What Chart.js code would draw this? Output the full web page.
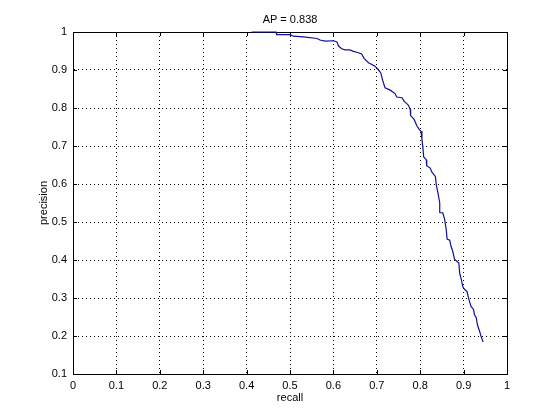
<!DOCTYPE html>
<html>
<head>
<meta charset="utf-8">
<script src="https://cdn.jsdelivr.net/npm/chart.js@4/dist/chart.umd.min.js"></script>
<style>
  body { margin: 0; background: #fff; }
</style>
</head>
<body>
<canvas id="grafico" width="560" height="420"></canvas>
<script>
// dados
const titulo = 'AP = 0.838';
const recall = [0.4115, 0.468, 0.469, 0.5, 0.508, 0.531, 0.562, 0.569, 0.581, 0.6, 0.608, 0.612, 0.619, 0.627, 0.638, 0.646, 0.656, 0.665, 0.671, 0.681, 0.696, 0.704, 0.709, 0.714, 0.719, 0.731, 0.742, 0.746, 0.758, 0.763, 0.773, 0.777, 0.778, 0.786, 0.792, 0.798, 0.802, 0.804, 0.806, 0.808, 0.814, 0.815, 0.823, 0.827, 0.835, 0.837, 0.841, 0.845, 0.845, 0.852, 0.856, 0.860, 0.862, 0.868, 0.871, 0.875, 0.879, 0.885, 0.889, 0.891, 0.895, 0.898, 0.902, 0.908, 0.912, 0.917, 0.923, 0.925, 0.929, 0.932, 0.937, 0.940, 0.945];
const precision = [1.0, 1.0, 0.993, 0.993, 0.989, 0.987, 0.983, 0.979, 0.976, 0.977, 0.974, 0.963, 0.956, 0.953, 0.953, 0.949, 0.946, 0.942, 0.930, 0.919, 0.910, 0.900, 0.893, 0.871, 0.853, 0.847, 0.838, 0.829, 0.827, 0.818, 0.807, 0.796, 0.780, 0.770, 0.754, 0.743, 0.739, 0.717, 0.699, 0.671, 0.664, 0.648, 0.642, 0.631, 0.620, 0.598, 0.576, 0.550, 0.525, 0.524, 0.508, 0.480, 0.455, 0.452, 0.436, 0.423, 0.402, 0.396, 0.392, 0.365, 0.348, 0.330, 0.323, 0.317, 0.297, 0.278, 0.270, 0.256, 0.249, 0.229, 0.212, 0.200, 0.184];

const fonte = { family: '"Liberation Sans", Arial, sans-serif', size: 11 };

// moldura e marcas internas (estilo matlab), desenhadas antes da curva
const molduraPlugin = {
  id: 'moldura',
  beforeDatasetsDraw(chart) {
    const ctx = chart.ctx;
    const a = chart.chartArea;
    const sx = chart.scales.x, sy = chart.scales.y;
    ctx.save();
    ctx.strokeStyle = '#000';
    ctx.lineWidth = 1;
    ctx.setLineDash([]);
    ctx.strokeRect(Math.round(a.left) + 0.5, Math.round(a.top) + 0.5, Math.round(a.right - a.left), Math.round(a.bottom - a.top));
    ctx.beginPath();
    sx.ticks.forEach(t => {
      const x = Math.round(sx.getPixelForValue(t.value)) + 0.5;
      ctx.moveTo(x, a.bottom); ctx.lineTo(x, a.bottom - 4);
      ctx.moveTo(x, a.top); ctx.lineTo(x, a.top + 4);
    });
    sy.ticks.forEach(t => {
      const y = Math.round(sy.getPixelForValue(t.value)) + 0.5;
      ctx.moveTo(a.left, y); ctx.lineTo(a.left + 4, y);
      ctx.moveTo(a.right, y); ctx.lineTo(a.right - 4, y);
    });
    ctx.stroke();
    ctx.restore();
  },
  afterDraw(chart) {
    const ctx = chart.ctx;
    const a = chart.chartArea;
    ctx.save();
    ctx.fillStyle = '#000';
    ctx.font = '11px ' + fonte.family;
    ctx.textAlign = 'center';
    ctx.textBaseline = 'middle';
    ctx.fillText(titulo, (a.left + a.right) / 2, 20);
    ctx.restore();
  }
};

function rotulo(v) {
  return String(Math.round(v * 10) / 10);
}

const ctx = document.getElementById('grafico').getContext('2d');
const grafico = new Chart(ctx, {
  type: 'scatter',
  data: {
    datasets: [{
      data: recall.map((r, i) => ({ x: r, y: precision[i] })),
      showLine: true,
      borderColor: '#10109a',
      borderWidth: 1.2,
      pointRadius: 0,
      tension: 0,
      fill: false,
      clip: 3
    }]
  },
  options: {
    responsive: false,
    animation: false,
    layout: { padding: { top: 32, right: 53, left: 0, bottom: 0 } },
    plugins: {
      legend: { display: false },
      tooltip: { enabled: false }
    },
    scales: {
      x: {
        type: 'linear',
        min: 0,
        max: 1,
        ticks: { stepSize: 0.1, color: '#000', font: fonte, padding: 5, callback: rotulo, maxRotation: 0 },
        grid: { color: '#000', drawTicks: false },
        border: { display: true, color: '#000', dash: [1, 3] },
        title: { display: true, text: 'recall', color: '#000', font: fonte, padding: { top: 0, bottom: 15 } },
        afterFit(scale) { scale.height = 46; }
      },
      y: {
        type: 'linear',
        min: 0.1,
        max: 1,
        ticks: { stepSize: 0.1, color: '#000', font: fonte, padding: 6, callback: rotulo },
        grid: { color: '#000', drawTicks: false },
        border: { display: true, color: '#000', dash: [1, 3] },
        title: { display: true, text: 'precision', color: '#000', font: fonte, padding: { top: 37, bottom: 0 } },
        afterFit(scale) { scale.width = 73; }
      }
    }
  },
  plugins: [molduraPlugin]
});
</script>
</body>
</html>
